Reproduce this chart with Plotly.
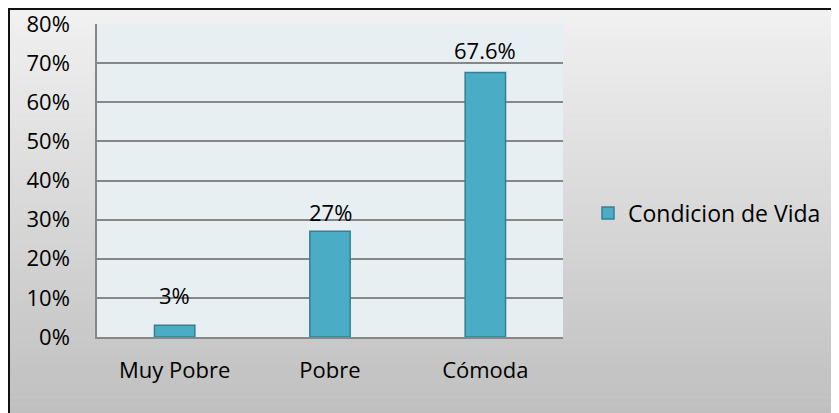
import plotly.graph_objects as go

categories = ["Muy Pobre", "Pobre", "Cómoda"]
values = [3.0, 27.0, 67.6]
value_labels = ["3%", "27%", "67.6%"]
series_name = "Condicion de Vida"
y_ticks = [0, 10, 20, 30, 40, 50, 60, 70, 80]
y_tick_labels = ["0%", "10%", "20%", "30%", "40%", "50%", "60%", "70%", "80%"]

# label pixel offsets above bar tops (style)
label_shift = [30, 19, 23]

OFF = 8  # page body margin
W, H = 839 - OFF, 413 - OFF
# plot area in screen pixels
L, R, T, B = 97, 563, 24, 337
FONT = "Open Sans, Calibri, Carlito, sans-serif"
BAR = "#4BACC6"
BAR_LINE = "#357F93"


def px_x(px):
    return (px - L) / (R - L)


def px_y(py):
    return (B - py) / (B - T)


fig = go.Figure()
fig.add_trace(go.Bar(
    x=categories, y=values, name=series_name,
    marker=dict(color=BAR, line=dict(color=BAR_LINE, width=1.5)),
    showlegend=True,
))

shapes = []
# gradient background within border
top_px, bot_px = 8, 425
n = 60
c_top, c_bot = 241, 190
for i in range(n):
    y0 = top_px + (bot_px - top_px) * i / n
    y1 = top_px + (bot_px - top_px) * (i + 1) / n
    c = round(c_top + (c_bot - c_top) * (i + 0.5) / n)
    shapes.append(dict(type="rect", xref="paper", yref="paper",
                       x0=px_x(8), x1=px_x(850), y0=px_y(y0), y1=px_y(y1 + 0.6),
                       fillcolor=f"rgb({c},{c},{c})", line=dict(width=0), layer="below"))
# plot area background
shapes.append(dict(type="rect", xref="x domain", yref="y domain", x0=0, x1=1, y0=0, y1=1,
                   fillcolor="#E8EFF3", line=dict(width=0), layer="below"))
# outer border
shapes.append(dict(type="rect", xref="paper", yref="paper",
                   x0=px_x(9), x1=px_x(850), y0=px_y(430), y1=px_y(9),
                   fillcolor="rgba(0,0,0,0)", line=dict(color="#111111", width=2), layer="above"))

annotations = []
for cat, v, lab, s in zip(categories, values, value_labels, label_shift):
    annotations.append(dict(x=cat, y=v, text=lab, showarrow=False, yanchor="middle",
                            yshift=s, font=dict(family=FONT, size=22, color="#000000")))

fig.update_layout(
    width=W, height=H,
    margin=dict(l=L - OFF, r=839 - R, t=T - OFF, b=413 - B, pad=0),
    paper_bgcolor="white",
    plot_bgcolor="rgba(0,0,0,0)",
    bargap=0.74,
    font=dict(family=FONT, size=22, color="#000000"),
    shapes=shapes,
    annotations=annotations,
    showlegend=True,
    legend=dict(x=px_x(588), y=px_y(213), xanchor="left", yanchor="middle",
                bgcolor="rgba(0,0,0,0)", font=dict(family=FONT, size=23, color="#000000"),
                itemwidth=30, tracegroupgap=0),
)
fig.update_yaxes(range=[0, 80], tickvals=y_ticks, ticktext=y_tick_labels,
                 showgrid=True, gridcolor="#878787", gridwidth=1.5,
                 showline=True, linecolor="#878787", linewidth=1.5,
                 zeroline=False, ticks="", ticklabelstandoff=21, fixedrange=True,
                 automargin=False, ticklabeloverflow="allow")
fig.update_xaxes(showgrid=False, showline=True, linecolor="#878787", linewidth=1.5,
                 ticks="", ticklabelstandoff=13, fixedrange=True, automargin=False,
                 ticklabeloverflow="allow")

fig.write_html("out.html")
